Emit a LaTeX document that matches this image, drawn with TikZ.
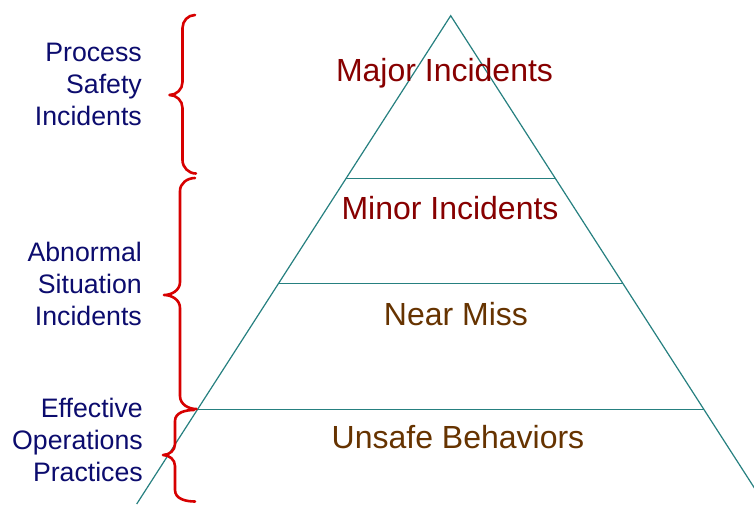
\documentclass[tikz,border=0pt]{standalone}
\usepackage{fontspec}
\setmainfont{Liberation Sans}
\definecolor{pyrline}{RGB}{38,128,128}
\definecolor{darkred}{RGB}{135,0,0}
\definecolor{brownish}{RGB}{102,51,0}
\definecolor{navytext}{RGB}{12,12,110}
\definecolor{bracered}{RGB}{215,0,0}
\tikzset{
  pyr/.style={draw=pyrline, line width=1.2pt},
  levellabel/.style={anchor=base, inner sep=0pt, font=\fontsize{32}{38}\selectfont},
  sidelabel/.style={anchor=base east, inner sep=0pt, align=right, text=navytext, font=\fontsize{26.7}{32}\selectfont},
  bracestyle/.style={draw=bracered, line width=2.6pt, line cap=round, line join=round}
}
\begin{document}
\begin{tikzpicture}[x=1pt, y=-1pt]
\useasboundingbox (0,0) rectangle (754,504);
\fill[white] (0,0) rectangle (754,504);
% pyramid
\coordinate (apex) at (450.7,15.7);
\coordinate (bl) at (136.7,504);
\coordinate (br) at (764.7,504);
\begin{scope}
\clip (0,0) rectangle (754,504);
\draw[pyr] (bl) -- (apex) -- (br);
\end{scope}
\coordinate (l1a) at (346.1,178.3);
\coordinate (l1b) at (555.3,178.3);
\coordinate (l2a) at (278.6,283.5);
\coordinate (l2b) at (622.8,283.5);
\coordinate (l3a) at (197.6,409.3);
\coordinate (l3b) at (703.8,409.3);
\draw[pyr] (l1a) -- (l1b);
\draw[pyr] (l2a) -- (l2b);
\draw[pyr] (l3a) -- (l3b);
% level labels
\node[levellabel, text=darkred] (major) at (444.5,81.7) {Major Incidents};
\node[levellabel, text=darkred] (minor) at (450,219.3) {Minor Incidents};
\node[levellabel, text=brownish] (near) at (456,325.7) {Near Miss};
\node[levellabel, text=brownish] (unsafe) at (458,448) {Unsafe Behaviors};
% side labels (base anchor = last line's baseline)
\node[sidelabel] (psi) at (142,125) {Process\\Safety\\Incidents};
\node[sidelabel] (asi) at (142,325) {Abnormal\\Situation\\Incidents};
\node[sidelabel] (eop) at (143,481.7) {Effective\\Operations\\Practices};
% braces
\draw[bracestyle] (195,15) to[out=180,in=90] (182.5,28) -- (182.5,82)
  to[out=-90,in=0] (169.5,95) to[out=0,in=90] (182.5,108) -- (182.5,160)
  to[out=-90,in=180] (196,173.5);
\draw[bracestyle] (195,178) to[out=180,in=90] (180,191) -- (180,282)
  to[out=-90,in=0] (164,295) to[out=0,in=90] (180,308) -- (180,396)
  to[out=-90,in=180] (196.5,409);
\draw[bracestyle] (194,410) to[out=180,in=90] (175,421) -- (175,444)
  to[out=-90,in=0] (163,455) to[out=0,in=90] (175,466) -- (175,490)
  to[out=-90,in=180] (195,501.5);
\end{tikzpicture}
\end{document}
